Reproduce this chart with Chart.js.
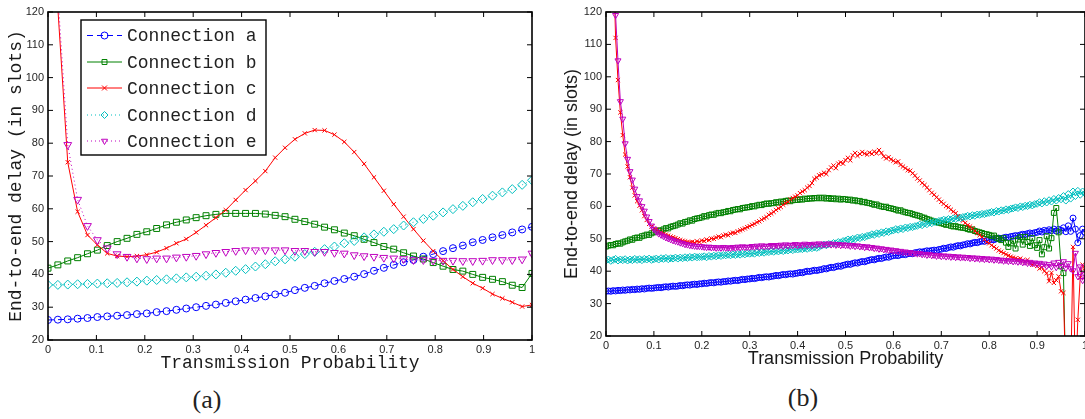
<!DOCTYPE html>
<html>
<head>
<meta charset="utf-8">
<script src="https://cdn.jsdelivr.net/npm/chart.js@4/dist/chart.umd.min.js"></script>
<style>
  html, body { margin: 0; padding: 0; background: #fff; overflow: hidden; }
  #wrap { position: relative; width: 1085px; height: 419px; overflow: hidden; }
  canvas { position: absolute; top: 0; }
  .cap { position: absolute; transform: translate(-50%, -50%); font: 26px 'Liberation Serif', serif; color: #222; }
</style>
</head>
<body>
<div id="wrap">
  <canvas id="chartA" width="545" height="380" style="left:0px"></canvas>
  <canvas id="chartB" width="552" height="380" style="left:548px"></canvas>
  <div class="cap" style="left:207px; top:400px">(a)</div>
  <div class="cap" style="left:803px; top:398px">(b)</div>
</div>
<script>
// 图例名称
const seriesNames = ['Connection a', 'Connection b', 'Connection c', 'Connection d', 'Connection e'];

// (a) 解析模型, x 轴 50 个点
const xsA = [0, 0.0204, 0.0408, 0.0612, 0.0816, 0.102, 0.1224, 0.1429, 0.1633, 0.1837,
  0.2041, 0.2245, 0.2449, 0.2653, 0.2857, 0.3061, 0.3265, 0.3469, 0.3673, 0.3878,
  0.4082, 0.4286, 0.449, 0.4694, 0.4898, 0.5102, 0.5306, 0.551, 0.5714, 0.5918,
  0.6122, 0.6327, 0.6531, 0.6735, 0.6939, 0.7143, 0.7347, 0.7551, 0.7755, 0.7959,
  0.8163, 0.8367, 0.8571, 0.8776, 0.898, 0.9184, 0.9388, 0.9592, 0.9796, 1];
const aA = [26.1, 26.2, 26.3, 26.5, 26.7, 27.0, 27.2, 27.4, 27.6, 27.9,
  28.1, 28.5, 28.8, 29.2, 29.6, 30.0, 30.4, 30.8, 31.3, 31.8,
  32.3, 32.8, 33.3, 33.9, 34.4, 35.2, 35.9, 36.5, 37.3, 38.0,
  38.6, 39.3, 40.1, 41.1, 42.0, 42.9, 43.7, 44.4, 45.4, 46.2,
  47.1, 48.0, 48.8, 49.8, 50.5, 51.3, 52.0, 52.8, 53.7, 54.5];
const bA = [41.9, 42.9, 44.1, 45.1, 46.3, 47.4, 48.8, 50.0, 51.0, 52.2,
  53.0, 54.0, 55.1, 55.9, 56.6, 57.3, 57.9, 58.3, 58.6, 58.6,
  58.6, 58.6, 58.4, 58.0, 57.6, 56.8, 56.1, 55.3, 54.4, 53.6,
  52.6, 51.8, 50.7, 49.7, 48.5, 47.7, 46.6, 45.6, 44.7, 43.6,
  42.5, 41.5, 41.0, 40.0, 39.1, 38.5, 37.8, 36.7, 36.0, 40.3];
const cA = [200, 121, 74.2, 59.1, 52.0, 49.0, 46.4, 45.6, 45.4, 45.6,
  46.0, 46.8, 48.0, 49.5, 50.8, 52.8, 55.0, 57.3, 59.6, 62.7,
  65.7, 68.5, 71.5, 75.6, 78.6, 81.2, 83.0, 84.0, 83.9, 82.6,
  80.4, 77.3, 73.7, 69.6, 65.5, 61.4, 57.6, 53.8, 50.3, 47.1,
  44.2, 41.5, 39.3, 37.3, 35.8, 34.0, 32.7, 31.5, 30.2, 30.7];
const dA = [36.8, 36.8, 36.9, 37.0, 37.1, 37.2, 37.3, 37.4, 37.6, 37.8,
  38.1, 38.3, 38.5, 38.8, 39.1, 39.3, 39.6, 40.0, 40.5, 41.1,
  41.6, 42.4, 43.1, 44.0, 44.6, 45.4, 46.2, 46.9, 47.7, 48.5,
  49.5, 50.2, 51.3, 52.2, 53.0, 53.8, 54.9, 55.9, 56.9, 57.9,
  58.9, 59.9, 60.9, 62.0, 63.0, 64.0, 65.0, 66.0, 67.3, 68.7];
const eA = [250, 125, 79.5, 62.8, 54.8, 50.5, 48.0, 46.2, 45.4, 44.9,
  44.7, 44.9, 44.9, 45.2, 45.4, 45.7, 46.2, 46.6, 46.9, 47.2,
  47.4, 47.4, 47.4, 47.4, 47.4, 47.2, 47.2, 46.9, 46.9, 46.6,
  46.4, 45.9, 45.6, 45.4, 45.1, 44.9, 44.7, 44.4, 44.4, 44.2,
  44.2, 44.2, 44.1, 44.1, 44.2, 44.4, 44.4, 44.4, 44.6, 46.4];

// (b) 仿真结果, 步长 0.005
const xsB = [0,0.005,0.01,0.015,0.02,0.025,0.03,0.035,0.04,0.045,
  0.05,0.055,0.06,0.065,0.07,0.075,0.08,0.085,0.09,0.095,
  0.1,0.105,0.11,0.115,0.12,0.125,0.13,0.135,0.14,0.145,
  0.15,0.155,0.16,0.165,0.17,0.175,0.18,0.185,0.19,0.195,
  0.2,0.205,0.21,0.215,0.22,0.225,0.23,0.235,0.24,0.245,
  0.25,0.255,0.26,0.265,0.27,0.275,0.28,0.285,0.29,0.295,
  0.3,0.305,0.31,0.315,0.32,0.325,0.33,0.335,0.34,0.345,
  0.35,0.355,0.36,0.365,0.37,0.375,0.38,0.385,0.39,0.395,
  0.4,0.405,0.41,0.415,0.42,0.425,0.43,0.435,0.44,0.445,
  0.45,0.455,0.46,0.465,0.47,0.475,0.48,0.485,0.49,0.495,
  0.5,0.505,0.51,0.515,0.52,0.525,0.53,0.535,0.54,0.545,
  0.55,0.555,0.56,0.565,0.57,0.575,0.58,0.585,0.59,0.595,
  0.6,0.605,0.61,0.615,0.62,0.625,0.63,0.635,0.64,0.645,
  0.65,0.655,0.66,0.665,0.67,0.675,0.68,0.685,0.69,0.695,
  0.7,0.705,0.71,0.715,0.72,0.725,0.73,0.735,0.74,0.745,
  0.75,0.755,0.76,0.765,0.77,0.775,0.78,0.785,0.79,0.795,
  0.8,0.805,0.81,0.815,0.82,0.825,0.83,0.835,0.84,0.845,
  0.85,0.855,0.86,0.865,0.87,0.875,0.88,0.885,0.89,0.895,
  0.9,0.905,0.91,0.915,0.92,0.925,0.93,0.935,0.94,0.945,
  0.95,0.955,0.96,0.965,0.97,0.975,0.98,0.985,0.99,0.995,
  1];
const aB = [33.8, 33.9, 33.8, 34.0, 33.9, 34.1, 34.0, 34.2, 34.1, 34.3,
  34.2, 34.4, 34.3, 34.5, 34.4, 34.6, 34.5, 34.7, 34.8, 34.7,
  34.8, 34.9, 35.0, 34.9, 35.1, 35.2, 35.1, 35.3, 35.4, 35.3,
  35.4, 35.6, 35.5, 35.7, 35.8, 35.7, 35.9, 36.0, 35.9, 36.1,
  36.1, 36.3, 36.2, 36.4, 36.5, 36.4, 36.6, 36.7, 36.6, 36.8,
  36.8, 37.0, 36.9, 37.1, 37.2, 37.1, 37.3, 37.5, 37.4, 37.6,
  37.6, 37.8, 37.7, 37.9, 38.1, 38.0, 38.2, 38.3, 38.2, 38.4,
  38.5, 38.7, 38.6, 38.8, 39.0, 38.9, 39.1, 39.2, 39.1, 39.3,
  39.4, 39.6, 39.5, 39.8, 40.0, 39.9, 40.1, 40.3, 40.2, 40.4,
  40.5, 40.8, 40.7, 41.0, 41.2, 41.1, 41.4, 41.6, 41.5, 41.8,
  42.0, 42.2, 42.1, 42.4, 42.6, 42.5, 42.8, 43.0, 42.9, 43.2,
  43.4, 43.6, 43.5, 43.8, 44.0, 43.9, 44.2, 44.4, 44.3, 44.6,
  44.8, 44.9, 44.8, 45.1, 45.2, 45.1, 45.4, 45.5, 45.4, 45.7,
  45.8, 46.0, 45.9, 46.1, 46.3, 46.2, 46.4, 46.5, 46.4, 46.7,
  46.8, 47.1, 47.0, 47.3, 47.5, 47.4, 47.7, 47.9, 47.8, 48.1,
  48.2, 48.5, 48.4, 48.7, 48.9, 48.8, 49.1, 49.3, 49.2, 49.5,
  49.6, 49.8, 49.7, 50.0, 50.2, 50.1, 50.3, 50.5, 50.4, 50.7,
  50.8, 51.0, 50.9, 51.2, 51.4, 51.3, 51.6, 51.8, 51.6, 51.9,
  52.0, 52.4, 52.1, 52.6, 52.3, 52.8, 52.5, 53.0, 52.4, 52.9,
  52.6, 53.4, 52.2, 54.0, 52.3, 56.4, 53.0, 48.8, 51.0, 53.0,
  52.0];
const bB = [47.6, 47.9, 48.1, 48.0, 48.4, 48.6, 48.5, 48.9, 49.2, 49.4,
  49.8, 49.7, 50.2, 50.4, 50.3, 50.8, 51.0, 51.3, 51.2, 51.7,
  52.0, 52.2, 52.6, 52.5, 52.9, 53.3, 53.2, 53.7, 53.9, 54.1,
  54.4, 54.8, 54.7, 55.2, 55.3, 55.7, 55.6, 56.1, 56.3, 56.4,
  56.6, 57.0, 56.9, 57.3, 57.5, 57.4, 57.8, 58.0, 57.9, 58.2,
  58.3, 58.6, 58.5, 58.9, 59.0, 59.2, 59.1, 59.5, 59.6, 59.7,
  59.8, 60.1, 60.0, 60.3, 60.5, 60.4, 60.7, 60.9, 60.8, 61.0,
  61.0, 61.3, 61.2, 61.5, 61.4, 61.7, 61.8, 61.6, 61.9, 62.0,
  62.0, 62.2, 62.1, 62.4, 62.3, 62.5, 62.4, 62.6, 62.5, 62.7,
  62.5, 62.7, 62.4, 62.6, 62.3, 62.5, 62.2, 62.4, 62.1, 62.3,
  62.2, 62.0, 62.1, 61.8, 61.9, 61.6, 61.7, 61.3, 61.4, 61.1,
  61.0, 60.8, 60.5, 60.6, 60.2, 60.0, 59.8, 59.9, 59.5, 59.4,
  59.2, 59.0, 58.7, 58.8, 58.4, 58.2, 58.0, 57.9, 57.6, 57.4,
  57.2, 57.0, 56.6, 56.5, 56.1, 55.9, 55.6, 55.4, 55.1, 55.0,
  54.8, 54.6, 54.3, 54.4, 54.0, 53.8, 53.9, 53.6, 53.5, 53.4,
  53.3, 53.0, 52.8, 52.9, 52.4, 52.2, 52.0, 51.8, 51.5, 51.4,
  51.2, 50.8, 51.0, 50.3, 50.0, 49.6, 50.2, 48.8, 47.5, 48.6,
  49.4, 47.0, 49.8, 50.5, 48.2, 50.6, 49.0, 47.8, 50.2, 48.0,
  47.2, 49.6, 45.2, 47.4, 50.8, 47.0, 50.2, 58.0, 59.5, 52.0,
  41.5, 39.4, 5, 5, 5, 5, 5, 5, 5, 5,
  5];
const cB = [400, 260, 185, 140, 112, 99, 89, 82, 76, 72.3,
  69.0, 65.8, 63.4, 61.6, 60.2, 58.8, 57.0, 55.8, 54.6, 53.8,
  53.2, 52.8, 52.3, 51.9, 51.6, 51.3, 51.0, 50.7, 50.5, 50.2,
  49.9, 49.6, 49.4, 49.2, 49.0, 48.9, 49.1, 48.8, 49.2, 49.0,
  49.5, 49.3, 49.8, 49.6, 50.1, 50.0, 50.4, 50.7, 50.5, 51.0,
  51.3, 51.1, 51.6, 51.9, 51.8, 52.3, 52.6, 52.9, 53.2, 53.6,
  53.9, 54.3, 54.6, 55.1, 55.4, 55.9, 56.3, 56.7, 57.4, 57.8,
  58.3, 58.9, 59.4, 59.8, 60.5, 61.0, 61.4, 62.1, 62.6, 63.0,
  63.4, 64.1, 64.6, 65.0, 65.8, 66.3, 67.2, 68.5, 68.9, 69.6,
  69.9, 70.4, 70.0, 71.2, 72.0, 72.6, 71.8, 73.2, 73.6, 73.2,
  74.3, 75.0, 74.2, 75.8, 76.5, 75.6, 76.2, 76.8, 76.3, 76.0,
  76.6, 76.2, 76.9, 76.4, 77.4, 76.5, 75.4, 74.8, 75.2, 74.5,
  74.1, 73.6, 73.9, 72.8, 72.3, 71.8, 71.2, 71.0, 70.2, 69.5,
  68.6, 68.0, 67.2, 66.6, 65.8, 65.0, 64.2, 63.6, 62.8, 62.1,
  61.4, 60.8, 60.1, 59.7, 59.0, 58.4, 57.9, 57.0, 56.2, 55.6,
  54.9, 54.2, 53.8, 53.2, 52.4, 51.8, 51.1, 50.6, 49.8, 49.0,
  48.6, 48.0, 47.5, 47.0, 46.4, 46.0, 45.6, 45.2, 44.8, 44.5,
  44.2, 44.0, 43.7, 43.9, 43.4, 43.0, 43.5, 42.6, 42.0, 42.3,
  41.6, 40.8, 41.2, 40.0, 39.4, 36.9, 39.5, 36.4, 37.2, 38.4,
  33.8, 33.3, 5, 5, 5, 47.5, 5, 25.0, 38.0, 42.0,
  40.0];
const dB = [43.3, 43.6, 43.2, 43.5, 43.8, 43.3, 43.6, 43.4, 43.7, 43.3,
  43.6, 43.4, 43.8, 43.5, 43.7, 43.4, 43.8, 43.6, 43.9, 43.5,
  43.7, 43.9, 43.6, 44.0, 43.8, 44.1, 43.7, 44.0, 43.9, 44.2,
  43.9, 44.2, 44.0, 44.3, 44.1, 44.4, 44.2, 44.5, 44.3, 44.4,
  44.4, 44.6, 44.3, 44.7, 44.5, 44.8, 44.6, 44.9, 44.7, 45.0,
  44.9, 45.1, 44.9, 45.2, 45.0, 45.3, 45.1, 45.4, 45.2, 45.5,
  45.4, 45.6, 45.4, 45.8, 45.6, 45.9, 45.7, 46.0, 45.9, 46.2,
  46.0, 46.3, 46.1, 46.4, 46.2, 46.5, 46.4, 46.7, 46.5, 46.8,
  46.7, 46.9, 46.8, 47.1, 46.9, 47.2, 47.1, 47.4, 47.2, 47.5,
  47.9, 48.2, 48.0, 48.4, 48.3, 48.7, 48.6, 49.0, 48.9, 49.3,
  49.4, 49.8, 49.6, 50.0, 49.9, 50.4, 50.2, 50.6, 50.5, 50.9,
  51.0, 51.4, 51.2, 51.7, 51.5, 52.0, 51.8, 52.3, 52.1, 52.5,
  52.6, 53.0, 52.8, 53.2, 53.0, 53.5, 53.3, 53.7, 53.6, 53.9,
  54.0, 54.4, 54.2, 54.7, 54.5, 55.0, 54.8, 55.3, 55.1, 55.5,
  55.6, 55.9, 55.7, 56.1, 55.9, 56.3, 56.1, 56.5, 56.4, 56.7,
  56.8, 57.1, 56.9, 57.3, 57.1, 57.5, 57.4, 57.7, 57.6, 57.9,
  58.0, 58.3, 58.1, 58.6, 58.4, 58.8, 58.7, 59.1, 58.9, 59.3,
  59.4, 59.7, 59.5, 60.0, 59.8, 60.2, 60.1, 60.5, 60.3, 60.7,
  60.8, 61.3, 60.9, 61.6, 61.2, 61.9, 61.5, 62.3, 61.8, 62.6,
  62.2, 63.2, 61.8, 63.8, 62.4, 64.6, 63.2, 64.8, 63.6, 64.6,
  64.0];
const eB = [400, 265, 190, 145, 119, 105, 92.4, 87, 79.4, 74.6,
  70.8, 68.2, 65.4, 63.1, 61.8, 60.0, 58.6, 56.8, 55.4, 54.0,
  53.0, 52.2, 51.6, 51.2, 50.8, 50.4, 50.1, 49.8, 49.5, 49.3,
  49.1, 48.8, 48.6, 48.3, 48.2, 48.0, 47.9, 47.8, 47.7, 47.7,
  47.6, 47.5, 47.4, 47.5, 47.3, 47.4, 47.2, 47.3, 47.2, 47.4,
  47.2, 47.3, 47.1, 47.4, 47.2, 47.5, 47.3, 47.6, 47.4, 47.5,
  47.4, 47.7, 47.5, 47.8, 47.5, 47.9, 47.6, 47.8, 47.7, 48.0,
  47.7, 48.0, 47.8, 48.1, 47.8, 48.2, 47.9, 48.1, 48.0, 48.3,
  47.9, 48.2, 48.0, 48.4, 48.1, 48.3, 48.0, 48.4, 48.2, 48.5,
  48.1, 48.4, 48.2, 48.5, 48.2, 48.4, 48.1, 48.3, 48.0, 48.2,
  48.0, 48.1, 47.8, 48.0, 47.7, 47.9, 47.6, 47.7, 47.4, 47.6,
  47.3, 47.4, 47.1, 47.2, 46.9, 47.0, 46.7, 46.8, 46.5, 46.6,
  46.3, 46.4, 46.1, 46.2, 45.9, 46.0, 45.7, 45.8, 45.5, 45.6,
  45.4, 45.5, 45.2, 45.3, 45.0, 45.2, 44.9, 45.0, 44.7, 44.9,
  44.6, 44.8, 44.5, 44.7, 44.4, 44.6, 44.3, 44.5, 44.2, 44.4,
  44.2, 44.3, 44.0, 44.2, 43.9, 44.1, 43.8, 44.0, 43.7, 43.9,
  43.6, 43.8, 43.5, 43.7, 43.4, 43.5, 43.2, 43.4, 43.1, 43.3,
  43.0, 43.2, 42.9, 43.1, 42.7, 42.9, 42.5, 42.8, 42.4, 42.6,
  42.2, 42.5, 42.0, 42.3, 41.6, 42.1, 41.4, 42.6, 41.2, 42.8,
  41.5, 43.0, 41.0, 42.4, 40.8, 40.2, 45.6, 38.4, 41.4, 37.2,
  39.0];

// 坐标轴刻度
const xTicks = [0, 0.1, 0.2, 0.3, 0.4, 0.5, 0.6, 0.7, 0.8, 0.9, 1];
const yTicks = [20, 30, 40, 50, 60, 70, 80, 90, 100, 110, 120];

const colors = ['#0000ff', '#008000', '#ff0000', '#00bfbf', '#bf00bf'];
const markers = ['circle', 'rect', 'crossRot', 'rectRot', 'triangle'];
const CLEAR = 'rgba(0,0,0,0)';
const MONO = "'Courier New', 'Liberation Mono', monospace";
const SANS = "Arial, 'Liberation Sans', Helvetica, sans-serif";

function makeSet(i, xs, ys, radius, dash) {
    return {
        label: seriesNames[i],
        data: xs.map((x, k) => ({ x: x, y: ys[k] })),
        borderColor: colors[i],
        backgroundColor: CLEAR,
        borderWidth: 1,
        borderDash: dash,
        pointStyle: markers[i],
        pointRotation: i === 4 ? 180 : 0,
        pointRadius: radius,
        pointBorderColor: colors[i],
        pointBackgroundColor: CLEAR,
        pointBorderWidth: 1,
        tension: 0,
        fill: false,
        order: 4 - i
    };
}

// 坐标框和内向刻度线
const framePlugin = {
    id: 'frame',
    afterDraw(chart, args, opts) {
        const { ctx, chartArea: ca } = chart;
        const xs = chart.scales.x, ys = chart.scales.y;
        ctx.save();
        ctx.setLineDash([]);
        ctx.strokeStyle = '#000';
        ctx.lineWidth = 1;
        ctx.beginPath();
        xTicks.forEach(v => {
            const px = xs.getPixelForValue(v);
            ctx.moveTo(px, ca.bottom); ctx.lineTo(px, ca.bottom - 5);
            ctx.moveTo(px, ca.top); ctx.lineTo(px, ca.top + 5);
        });
        yTicks.forEach(v => {
            const py = ys.getPixelForValue(v);
            ctx.moveTo(ca.left, py); ctx.lineTo(ca.left + 5, py);
            ctx.moveTo(ca.right, py); ctx.lineTo(ca.right - 5, py);
        });
        ctx.stroke();
        ctx.lineWidth = 1.6;
        ctx.strokeRect(ca.left, ca.top, ca.right - ca.left, ca.bottom - ca.top);

        // 图例
        const lg = opts.legend;
        ctx.fillStyle = '#fff';
        ctx.fillRect(lg.x, lg.y, lg.w, lg.h);
        ctx.lineWidth = 1.4;
        ctx.strokeRect(lg.x, lg.y, lg.w, lg.h);
        ctx.font = '18px ' + MONO;
        ctx.textBaseline = 'middle';
        chart.data.datasets.forEach((ds, i) => {
            const y = lg.rows[i];
            ctx.strokeStyle = ds.borderColor;
            ctx.lineWidth = 1;
            ctx.setLineDash(ds.borderDash || []);
            ctx.beginPath();
            ctx.moveTo(lg.x0, y); ctx.lineTo(lg.x1, y);
            ctx.stroke();
            ctx.setLineDash([]);
            ctx.fillStyle = CLEAR;
            Chart.helpers.drawPoint(ctx, {
                pointStyle: ds.pointStyle, rotation: ds.pointRotation,
                radius: lg.r, borderWidth: 1
            }, (lg.x0 + lg.x1) / 2, y);
            ctx.fillStyle = '#222';
            ctx.fillText(ds.label, lg.tx, y + 1);
        });
        ctx.restore();
    }
};

function makeOptions(cfg) {
    return {
        responsive: false,
        animation: false,
        devicePixelRatio: 1,
        layout: { padding: { top: 12, right: cfg.padRight, left: 0, bottom: 0 } },
        plugins: {
            legend: { display: false },
            tooltip: { enabled: false },
            frame: { legend: cfg.legend }
        },
        scales: {
            x: {
                type: 'linear', min: 0, max: 1,
                afterFit: s => { s.height = cfg.xH; },
                grid: { display: false, drawTicks: false },
                border: { display: false },
                ticks: {
                    stepSize: 0.1, padding: 3, color: '#262626', font: { family: SANS, size: 11 },
                    callback: v => String(Math.round(v * 10) / 10)
                },
                title: { display: true, text: 'Transmission Probability', color: '#1a1a1a',
                    font: { family: cfg.titleFont, size: 18 }, padding: { top: 0, bottom: cfg.xTitlePad } }
            },
            y: {
                type: 'linear', min: 20, max: 120,
                afterFit: s => { s.width = cfg.yW; },
                grid: { display: false, drawTicks: false },
                border: { display: false },
                ticks: { stepSize: 10, padding: 4, color: '#262626', font: { family: SANS, size: 11 } },
                title: { display: true, text: 'End-to-end delay (in slots)', color: '#1a1a1a',
                    font: { family: cfg.titleFont, size: 18 }, padding: { top: cfg.yTitlePad, bottom: 0 } }
            }
        }
    };
}

new Chart(document.getElementById('chartA'), {
    type: 'line',
    data: {
        datasets: [
            makeSet(0, xsA, aA, 3.5, [6, 4]),
            makeSet(1, xsA, bA, 4.2, []),
            makeSet(2, xsA, cA, 3, []),
            makeSet(3, xsA, dA, 4.5, [1, 3]),
            makeSet(4, xsA, eA, 4.5, [1, 3])
        ]
    },
    options: makeOptions({
        padRight: 13, xH: 40, yW: 48, titleFont: MONO, xTitlePad: 6, yTitlePad: 5,
        legend: { x: 81, y: 20, w: 185, h: 135, rows: [35.5, 62, 88, 115, 141], x0: 87, x1: 122, tx: 127, r: 3.5 }
    }),
    plugins: [framePlugin]
});

new Chart(document.getElementById('chartB'), {
    type: 'line',
    data: {
        datasets: [
            makeSet(0, xsB, aB, 3, []),
            makeSet(1, xsB, bB, 3.5, []),
            makeSet(2, xsB, cB, 3, []),
            makeSet(3, xsB, dB, 3.5, []),
            makeSet(4, xsB, eB, 3.5, [])
        ]
    },
    options: makeOptions({
        padRight: 15, xH: 44, yW: 58, titleFont: SANS, xTitlePad: 10, yTitlePad: 13,
        legend: { x: 897, y: 18, w: 182, h: 133, rows: [33, 59, 85, 111, 137], x0: 904, x1: 938, tx: 943, r: 3.5 }
    }),
    plugins: [framePlugin]
});
</script>
</body>
</html>
